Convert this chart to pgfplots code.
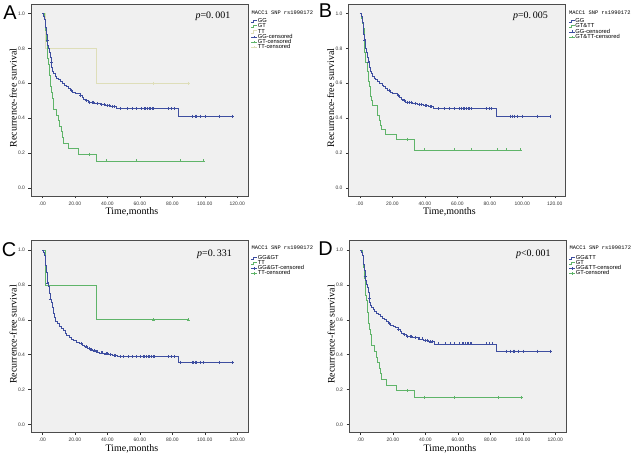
\documentclass[border=0pt]{standalone}
\usepackage{fontspec}
\setmainfont{Liberation Serif}
\setsansfont{Liberation Sans}
\setmonofont{Liberation Mono}
\usepackage{pgfplots}
\pgfplotsset{compat=1.18}
\definecolor{kmblue}{RGB}{62,78,160}
\definecolor{kmgreen}{RGB}{95,180,105}
\definecolor{kmtt}{RGB}{222,222,185}
\definecolor{bgg}{RGB}{240,240,240}
\tikzset{ttl/.style={anchor=west, font=\fontsize{5.4}{6}\selectfont\ttfamily, xshift=3.3bp, inner sep=0.2bp}}
\pgfplotsset{
  stepleg/.style={legend image code/.code={\draw[##1,line width=0.4bp] (0bp,-1bp) -- (2bp,-1bp) -- (2bp,1.3bp) -- (6bp,1.3bp);}},
  censleg/.style={legend image code/.code={\draw[##1,line width=0.4bp] (0bp,0bp) -- (6bp,0bp) (3bp,-1.3bp) -- (3bp,1.3bp);}},
  km/.style={
    scale only axis, width=217bp, height=192bp, clip mode=individual,
    xmin=-7, xmax=126.6, ymin=-0.047, ymax=1.055,
    axis background/.style={fill=bgg},
    axis line style={gray!60!black, line width=0.5bp},
    xtick={0,20,40,60,80,100,120},
    xticklabels={.00,20.00,40.00,60.00,80.00,100.00,120.00},
    ytick={0,0.2,0.4,0.6,0.8,1.0},
    yticklabels={0.0,0.2,0.4,0.6,0.8,1.0},
    tick label style={font=\fontsize{5}{6}\selectfont\sffamily, text=black!80},
    tick align=outside, tick pos=left, major tick length=2.5bp,
    tick style={gray!40!black, line width=0.4bp},
    xlabel={Time,months}, ylabel={Recurrence-free survival},
    every axis x label/.style={at={(axis description cs:0.465,-0.083)}, anchor=center, font=\fontsize{10}{12}\selectfont},
    every axis y label/.style={at={(axis description cs:-0.082,0.51)}, rotate=90, anchor=center, font=\fontsize{10}{12}\selectfont},
    legend style={at={(1.0,0.922)}, anchor=north west, draw=none, fill=none,
      font=\fontsize{5.8}{6.5}\selectfont\sffamily, row sep=0.3bp,
      inner xsep=3bp, inner ysep=0bp,
      nodes={inner sep=0.3bp, text height=3.4bp, text depth=0.8bp}},
    legend cell align=left,
    line/.style={const plot, line width=0.6bp},
    cens/.style={only marks, mark=+, mark size=1.5bp, line width=0.4bp},
  }
}
\begin{document}
\begin{tikzpicture}
\path[use as bounding box] (0,0) rectangle (634bp,457bp);

% ---------------- A ----------------
\begin{axis}[km, at={(31bp,261bp)}, anchor=south west]
\addplot[line, kmtt, forget plot] coordinates {(0,1) (2,0.8) (33.3,0.6) (90,0.6)};
\addplot[cens, kmtt, forget plot] coordinates {(68.5,0.6) (90,0.6)};
\addplot[line, kmgreen, forget plot] coordinates {
(0,1.000) (1.0,0.968) (1.5,0.935) (2.0,0.903) (2.5,0.839) (3.0,0.742) (3.6,0.710)
(4.4,0.645) (5.0,0.581) (5.6,0.548) (6.2,0.516) (7.0,0.452) (8.5,0.419) (9.6,0.387)
(10.2,0.355) (11.5,0.323) (12.3,0.290) (12.8,0.258) (15.8,0.226) (22.0,0.194)
(33.3,0.155) (99.0,0.155)};
\addplot[cens, kmgreen, forget plot] coordinates {(29,0.194) (39.6,0.155) (57.8,0.155) (84.7,0.155) (99,0.155)};
\addplot[line, kmblue, forget plot] coordinates {
(0,1.000) (0.8,0.985) (1.2,0.970) (1.6,0.950) (2.0,0.920) (2.4,0.880) (2.8,0.845)
(3.2,0.820) (3.6,0.800) (4.0,0.780) (4.6,0.750) (5.2,0.720) (5.8,0.690) (6.4,0.670)
(7.0,0.655) (7.8,0.640) (8.8,0.630) (9.8,0.620) (11.0,0.610) (12.2,0.600) (13.5,0.590)
(14.6,0.580) (15.8,0.570) (17.0,0.560) (18.5,0.550) (20.0,0.545) (21.5,0.540)
(23.2,0.530) (24.5,0.520) (25.3,0.510) (26.5,0.500) (28.0,0.490) (32.0,0.485)
(35.5,0.478) (39.0,0.472) (42.0,0.466) (45.5,0.455) (83.8,0.412) (117.0,0.412)};
\addplot[cens, kmblue, forget plot] coordinates {
(3.0,0.845) (5.5,0.72) (18,0.56) (23.5,0.53) (27,0.500) (29,0.490) (30.5,0.490) (31.5,0.490)
(34,0.485) (36.5,0.478) (38,0.478) (40,0.472) (41,0.472) (43,0.466) (44,0.466)
(48,0.455) (52,0.455) (55,0.455) (58,0.455) (61,0.455) (62.5,0.455) (63.5,0.455)
(64.5,0.455) (65.5,0.455) (66.5,0.455) (67.5,0.455) (68.5,0.455) (77.5,0.455)
(79.5,0.455) (81,0.455) (92.5,0.412) (94,0.412) (95,0.412) (97,0.412) (100,0.412)
(109,0.412) (117,0.412)};
\addlegendimage{stepleg, kmblue}\addlegendentry{GG}
\addlegendimage{stepleg, kmgreen}\addlegendentry{GT}
\addlegendimage{stepleg, kmtt}\addlegendentry{TT}
\addlegendimage{censleg, kmblue}\addlegendentry{GG-censored}
\addlegendimage{censleg, kmgreen}\addlegendentry{GT-censored}
\addlegendimage{censleg, kmtt}\addlegendentry{TT-censored}
\node[ttl] at (rel axis cs:1,0.952) {MACC1 SNP rs1990172};
\node[font=\fontsize{10}{12}\selectfont] at (axis cs:105,0.985) {\textit{p}=0.\,001};
\end{axis}

% ---------------- B ----------------
\begin{axis}[km, at={(348.5bp,261bp)}, anchor=south west]
\addplot[line, kmgreen, forget plot] coordinates {
(0,1.000) (1.0,0.972) (1.5,0.944) (2.0,0.917) (2.5,0.861) (3.0,0.778) (3.6,0.722)
(4.4,0.667) (5.0,0.611) (5.6,0.583) (6.2,0.528) (7.0,0.500) (7.6,0.472) (10.5,0.417)
(12.0,0.389) (12.5,0.361) (12.9,0.333) (15.8,0.306) (22.3,0.278) (33.8,0.217) (99.0,0.217)};
\addplot[cens, kmgreen, forget plot] coordinates {(28.9,0.278) (39.6,0.217) (57.8,0.217) (68.5,0.217) (84.7,0.217) (90,0.217) (99,0.217)};
\addplot[line, kmblue, forget plot] coordinates {
(0,1.000) (0.8,0.985) (1.2,0.970) (1.6,0.950) (2.0,0.920) (2.4,0.880) (2.8,0.845)
(3.2,0.820) (3.6,0.800) (4.0,0.780) (4.6,0.750) (5.2,0.720) (5.8,0.690) (6.4,0.670)
(7.0,0.655) (7.8,0.640) (8.8,0.630) (9.8,0.620) (11.0,0.610) (12.2,0.600) (13.5,0.590)
(14.6,0.580) (15.8,0.570) (17.0,0.560) (18.5,0.550) (20.0,0.545) (21.5,0.540)
(23.2,0.530) (24.5,0.520) (25.3,0.510) (26.5,0.500) (28.0,0.490) (32.0,0.485)
(35.5,0.478) (39.0,0.472) (42.0,0.466) (45.5,0.455) (83.8,0.412) (117.0,0.412)};
\addplot[cens, kmblue, forget plot] coordinates {
(3.0,0.845) (5.5,0.72) (18,0.56) (23.5,0.53) (27,0.500) (29,0.490) (30.5,0.490) (31.5,0.490)
(34,0.485) (36.5,0.478) (38,0.478) (40,0.472) (41,0.472) (43,0.466) (44,0.466)
(48,0.455) (52,0.455) (55,0.455) (58,0.455) (61,0.455) (62.5,0.455) (63.5,0.455)
(64.5,0.455) (65.5,0.455) (66.5,0.455) (67.5,0.455) (68.5,0.455) (77.5,0.455)
(79.5,0.455) (81,0.455) (92.5,0.412) (94,0.412) (95,0.412) (97,0.412) (100,0.412)
(109,0.412) (117,0.412)};
\addlegendimage{stepleg, kmblue}\addlegendentry{GG}
\addlegendimage{stepleg, kmgreen}\addlegendentry{GT\&TT}
\addlegendimage{censleg, kmblue}\addlegendentry{GG-censored}
\addlegendimage{censleg, kmgreen}\addlegendentry{GT\&TT-censored}
\node[ttl] at (rel axis cs:1,0.952) {MACC1 SNP rs1990172};
\node[font=\fontsize{10}{12}\selectfont] at (axis cs:105,0.985) {\textit{p}=0.\,005};
\end{axis}

% ---------------- C ----------------
\begin{axis}[km, at={(31bp,24.5bp)}, anchor=south west]
\addplot[line, kmgreen, forget plot] coordinates {(0,1) (2,0.8) (33.3,0.6) (90,0.6)};
\addplot[cens, kmgreen, forget plot] coordinates {(68.5,0.6) (90,0.6)};
\addplot[line, kmblue, forget plot] coordinates {
(0,1.000) (0.8,0.985) (1.2,0.970) (1.6,0.950) (2.0,0.910) (2.4,0.870) (2.8,0.840)
(3.2,0.810) (3.6,0.790) (4.2,0.750) (4.8,0.720) (5.3,0.700) (5.9,0.670) (6.5,0.640)
(7.2,0.615) (8.2,0.590) (9.2,0.578) (10.5,0.565) (11.8,0.552) (12.9,0.540) (14.0,0.525)
(15.0,0.510) (16.5,0.500) (18.0,0.490) (19.0,0.480) (21.0,0.472) (23.0,0.465)
(24.5,0.455) (26.0,0.445) (27.5,0.435) (29.5,0.428) (31.0,0.422) (33.0,0.416)
(35.0,0.410) (38.0,0.405) (40.5,0.400) (43.0,0.395) (46.0,0.389) (83.6,0.356) (117.0,0.356)};
\addplot[cens, kmblue, forget plot] coordinates {
(3.4,0.810) (5.0,0.720) (24,0.465) (27,0.445) (29,0.435) (30,0.428) (32,0.422) (34,0.416)
(36,0.410) (37,0.410) (39,0.405) (40,0.405) (42,0.400) (44,0.395) (45,0.395) (48,0.389)
(50,0.389) (53,0.389) (55,0.389) (58,0.389) (60,0.389) (62,0.389) (63,0.389) (64,0.389)
(65,0.389) (66,0.389) (67,0.389) (68,0.389) (69,0.389) (77.5,0.389) (79.5,0.389) (81,0.389)
(85,0.356) (92,0.356) (93,0.356) (94,0.356) (95,0.356) (97,0.356) (99,0.356) (109,0.356) (117,0.356)};
\addlegendimage{stepleg, kmblue}\addlegendentry{GG\&GT}
\addlegendimage{stepleg, kmgreen}\addlegendentry{TT}
\addlegendimage{censleg, kmblue}\addlegendentry{GG\&GT-censored}
\addlegendimage{censleg, kmgreen}\addlegendentry{TT-censored}
\node[ttl] at (rel axis cs:1,0.962) {MACC1 SNP rs1990172};
\node[font=\fontsize{10}{12}\selectfont] at (axis cs:106,0.977) {\textit{p}=0.\,331};
\end{axis}

% ---------------- D ----------------
\begin{axis}[km, at={(349bp,24.5bp)}, anchor=south west]
\addplot[line, kmgreen, forget plot] coordinates {
(0,1.000) (1.0,0.968) (1.5,0.935) (2.0,0.903) (2.5,0.839) (3.0,0.742) (3.6,0.710)
(4.4,0.645) (5.0,0.581) (5.6,0.548) (6.2,0.516) (7.0,0.452) (8.5,0.419) (9.6,0.387)
(10.2,0.355) (11.5,0.323) (12.3,0.290) (12.8,0.258) (15.8,0.226) (22.0,0.194)
(33.3,0.155) (99.0,0.155)};
\addplot[cens, kmgreen, forget plot] coordinates {(29,0.194) (39.6,0.155) (57.8,0.155) (84.7,0.155) (99,0.155)};
\addplot[line, kmblue, forget plot] coordinates {
(0,1.000) (0.8,0.985) (1.2,0.970) (1.6,0.950) (2.0,0.920) (2.4,0.885) (2.8,0.850)
(3.2,0.825) (3.6,0.805) (4.0,0.785) (4.6,0.755) (5.2,0.725) (5.8,0.700) (6.4,0.685)
(7.0,0.672) (7.8,0.660) (8.8,0.650) (9.8,0.640) (11.0,0.630) (12.2,0.620) (13.5,0.610)
(14.6,0.600) (15.8,0.590) (17.0,0.580) (18.5,0.570) (20.0,0.562) (21.5,0.555)
(23.2,0.545) (24.5,0.535) (25.3,0.525) (26.5,0.515) (28.0,0.505) (32.0,0.500)
(35.5,0.490) (39.0,0.482) (42.0,0.474) (45.5,0.461) (83.8,0.420) (117.0,0.420)};
\addplot[cens, kmblue, forget plot] coordinates {
(3.0,0.850) (5.5,0.725) (18,0.580) (23.5,0.545) (27,0.515) (29,0.505) (30.5,0.505) (31.5,0.505)
(34,0.500) (36.5,0.490) (38,0.490) (40,0.482) (41,0.482) (43,0.474) (44,0.474)
(48,0.461) (52,0.461) (55,0.461) (58,0.461) (61,0.461) (62.5,0.461) (63.5,0.461)
(64.5,0.461) (65.5,0.461) (66.5,0.461) (67.5,0.461) (68.5,0.461) (77.5,0.461)
(79.5,0.461) (81,0.461) (90,0.420) (92.5,0.420) (94,0.420) (95,0.420) (97,0.420) (100,0.420)
(109,0.420) (117,0.420)};
\addlegendimage{stepleg, kmblue}\addlegendentry{GG\&TT}
\addlegendimage{stepleg, kmgreen}\addlegendentry{GT}
\addlegendimage{censleg, kmblue}\addlegendentry{GG\&TT-censored}
\addlegendimage{censleg, kmgreen}\addlegendentry{GT-censored}
\node[ttl] at (rel axis cs:1,0.962) {MACC1 SNP rs1990172};
\node[font=\fontsize{10}{12}\selectfont] at (axis cs:106.5,0.978) {\textit{p}<0.\,001};
\end{axis}

\node[font=\fontsize{20}{20}\selectfont\sffamily] at (10bp,444.5bp) {A};
\node[font=\fontsize{20}{20}\selectfont\sffamily] at (325.5bp,446.5bp) {B};
\node[font=\fontsize{20}{20}\selectfont\sffamily] at (9bp,207.5bp) {C};
\node[font=\fontsize{20}{20}\selectfont\sffamily] at (325.5bp,208.5bp) {D};
\end{tikzpicture}
\end{document}
